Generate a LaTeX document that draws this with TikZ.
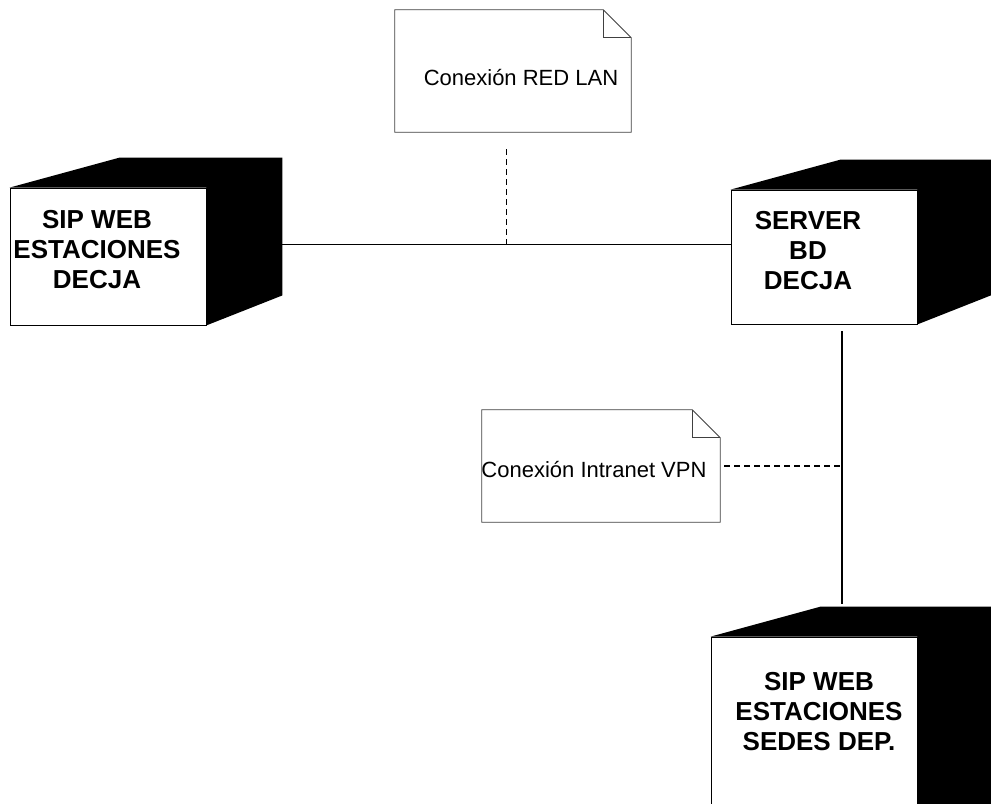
\documentclass[tikz,border=0pt]{standalone}
\usepackage{fontspec}
\setmainfont{Liberation Sans}
\usetikzlibrary{fit,calc}

\tikzset{
  face/.style={draw, fill=white, line width=0.6pt, inner sep=0pt},
  depth/.style={fill=black},
  maq/.style={font=\bfseries\fontsize{19.5}{22.5}\selectfont, align=center},
  nota/.style={inner sep=0pt},
  notaline/.style={draw=black!75, line width=0.6pt},
  notatext/.style={font=\fontsize{16.5}{19}\selectfont},
  enlace/.style={line width=0.9pt},
  nexo/.style={line width=0.9pt, dash pattern=on 4.5pt off 3pt},
}

% caja 3D de un nodo (cara superior y lateral)
\newcommand{\cubo}[1]{%
  \fill[depth] (#1.north west) -- ++(110,-30) -- ($(#1.north east)+(76,-30)$)
    -- ($(#1.south east)+(76,-30)$) -- (#1.south east) -- (#1.north east) -- cycle;
  \coordinate (#1-top) at ($(#1.north west)+(114,-33)$);}

% contorno de nota con esquina doblada
\newcommand{\notapath}[1]{%
  \draw[notaline] (#1.south west) -- (#1.north west) -- ($(#1.north east)+(-28,0)$)
    -- ($(#1.north east)+(0,28)$) -- (#1.south east) -- cycle;
  \draw[notaline] ($(#1.north east)+(-28,0)$) |- ($(#1.north east)+(0,28)$);}

\begin{document}
\begin{tikzpicture}[x=0.75pt,y=-0.75pt]
\clip (0,0) rectangle (991,803);

% maquinas
\node[face, fit={(10,188) (206,325)}] (sipdecja) {};
\cubo{sipdecja}
\node[maq] (sipdecja-txt) at (97,250) {SIP WEB\\ESTACIONES\\DECJA};

\node[face, fit={(731,190) (917,324)}] (server) {};
\cubo{server}
\node[maq] (server-txt) at (808,251) {SERVER\\BD\\DECJA};

\node[face, fit={(711,637) (917,840)}] (sedes) {};
\cubo{sedes}
\node[maq] (sedes-txt) at (819,712) {SIP WEB\\ESTACIONES\\SEDES DEP.};

% notas
\node[nota, fit={(395,10) (631,132)}] (notalan) {};
\notapath{notalan}
\node[notatext] (notalan-txt) at ($(notalan.center)+(8,7)$) {Conexión RED LAN};
\node[nota, fit={(482,410) (720,522)}] (notavpn) {};
\notapath{notavpn}
\node[notatext] (notavpn-txt) at ($(notavpn.center)+(-7,4)$) {Conexión Intranet VPN};

% enlaces
\draw[enlace] ($(sipdecja.north east)+(76,57)$) coordinate (lanA) -- (lanA -| server.west) coordinate (lanB);
\draw[nexo, shorten >=12pt] ($(lanA)!.5!(lanB)$) coordinate (lanM) -- (lanM |- notalan.south);
\draw[enlace] ($(server.south)+(18,7)$) coordinate (vpnA) -- (vpnA |- sedes-top) coordinate (vpnB);
\draw[nexo] ($(notavpn.east)+(4,0)$) -- (notavpn.east -| vpnA);
\end{tikzpicture}
\end{document}
